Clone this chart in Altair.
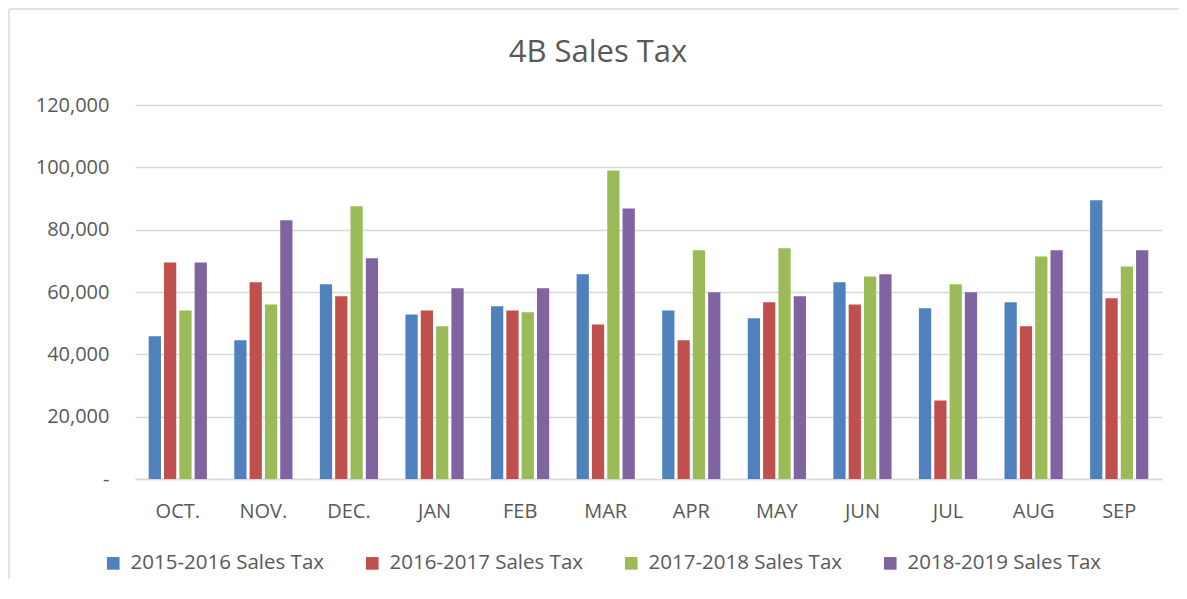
import altair as alt
import pandas as pd

months = ["OCT.", "NOV.", "DEC.", "JAN", "FEB", "MAR", "APR", "MAY", "JUN", "JUL", "AUG", "SEP"]
series_names = ["2015-2016 Sales Tax", "2016-2017 Sales Tax", "2017-2018 Sales Tax", "2018-2019 Sales Tax"]
s2015 = [45800, 44500, 62500, 52800, 55400, 65700, 54100, 51600, 63100, 54800, 56700, 89400]
s2016 = [69500, 63100, 58600, 54100, 54100, 49600, 44500, 56700, 56000, 25200, 49000, 58000]
s2017 = [54100, 56000, 87500, 49000, 53500, 99000, 73400, 74000, 65000, 62500, 71400, 68200]
s2018 = [69500, 83000, 70800, 61200, 61200, 86800, 59900, 58600, 65700, 59900, 73400, 73400]
colors = ["#4F81BD", "#C0504D", "#9BBB59", "#8064A2"]
chart_title = "4B Sales Tax"

rows = []
for name, vals in zip(series_names, [s2015, s2016, s2017, s2018]):
    for m, v in zip(months, vals):
        rows.append({"month": m, "series": name, "value": v})
df = pd.DataFrame(rows)

FONT = "Open Sans"
TXT = "#595959"
W, H = 1027, 374
PAD = {"left": 127, "top": 97, "right": 17, "bottom": 100}

bars = alt.Chart(df).mark_bar().encode(
    x=alt.X("month:N", sort=months, title=None,
            scale=alt.Scale(paddingInner=0.32, paddingOuter=0.16),
            axis=alt.Axis(labelAngle=0, labelFontSize=20, labelColor=TXT, labelFont=FONT,
                          labelPadding=22, ticks=False, domainColor="#d9d9d9", domainWidth=1.5,
                          grid=False)),
    xOffset=alt.XOffset("series:N", sort=series_names,
                        scale=alt.Scale(paddingInner=0.2, paddingOuter=0)),
    y=alt.Y("value:Q", title=None,
            scale=alt.Scale(domain=[0, 120000]),
            axis=alt.Axis(values=[0, 20000, 40000, 60000, 80000, 100000, 120000],
                          labelExpr="datum.value == 0 ? '-\u00a0\u00a0' : format(datum.value, ',')",
                          labelFontSize=20, labelColor=TXT, labelFont=FONT, labelPadding=26,
                          ticks=False, domain=False, gridColor="#d9d9d9", gridWidth=1.5)),
    color=alt.Color("series:N", sort=series_names,
                    scale=alt.Scale(domain=series_names, range=colors),
                    legend=alt.Legend(title=None, orient="none", legendX=-32, legendY=448,
                                      direction="horizontal", columns=4, symbolType="square",
                                      symbolSize=160, symbolStrokeWidth=0, labelFontSize=20.5,
                                      labelFont=FONT, labelColor=TXT, labelOffset=7,
                                      columnPadding=37, labelLimit=400, padding=0)),
)

one = pd.DataFrame({"t": [chart_title]})

title = alt.Chart(one).mark_text(
    fontSize=31, font=FONT, color=TXT, align="center", baseline="middle"
).encode(text="t:N", x=alt.value(463), y=alt.value(-52))

left_border = alt.Chart(one).mark_rule(color="#d9d9d9", strokeWidth=1.5).encode(
    x=alt.value(-126), y=alt.value(-96), y2=alt.value(H + PAD["bottom"] + 10))
top_border = alt.Chart(one).mark_rule(color="#d9d9d9", strokeWidth=1.5).encode(
    y=alt.value(-96), x=alt.value(-126), x2=alt.value(W + PAD["right"] + 10))

chart = alt.layer(left_border, top_border, title, bars).properties(
    width=W, height=H,
    autosize=alt.AutoSizeParams(type="none"),
    padding=PAD,
    background="white",
).configure_view(strokeWidth=0, stroke="transparent")

chart.save("out.html", embed_options={"renderer": "svg", "actions": False})
